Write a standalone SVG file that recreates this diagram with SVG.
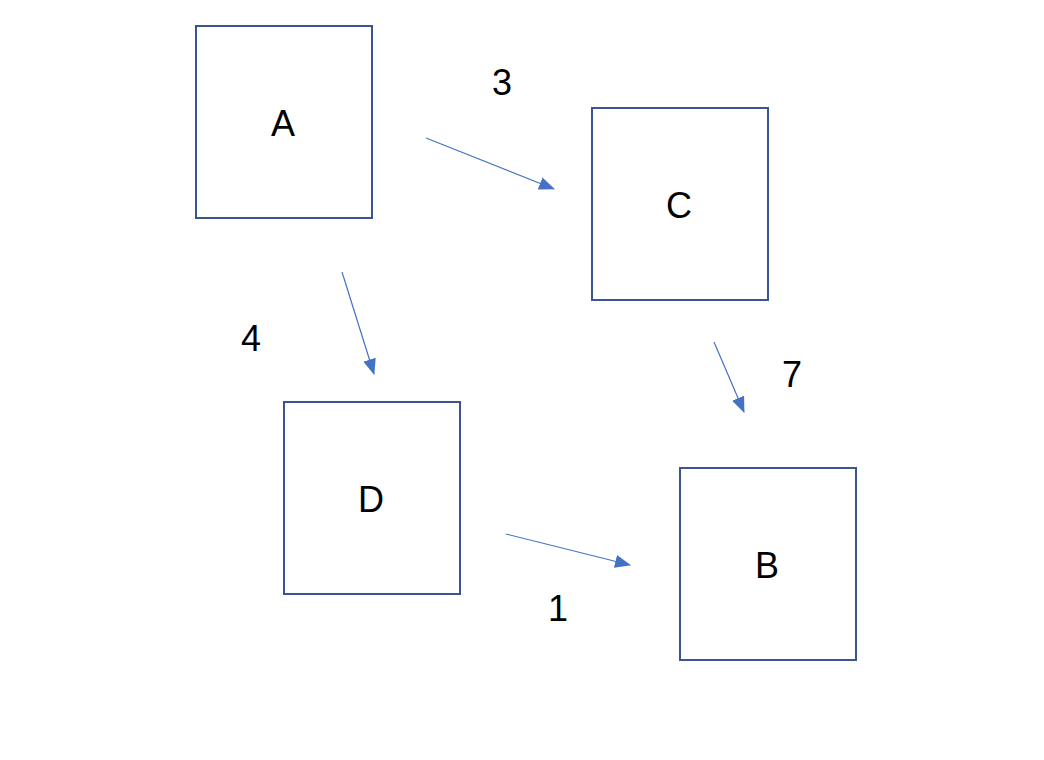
<svg xmlns="http://www.w3.org/2000/svg" width="1044" height="760" viewBox="0 0 1044 760">
<style>
.box{fill:#ffffff;stroke:#3B5591;stroke-width:2}
.lbl{font-family:"Liberation Sans",Arial,sans-serif;font-size:36px;fill:#000;text-anchor:middle}
.edge{stroke:#4472C4;stroke-width:1.2;fill:none;marker-end:url(#arr)}
</style>
<defs>
<marker id="arr" markerUnits="userSpaceOnUse" markerWidth="17" markerHeight="13" refX="15" refY="6.5" orient="auto">
<path d="M0,0 L16,6.5 L0,13 Z" fill="#4472C4"/>
</marker>
</defs>
<rect width="1044" height="760" fill="#ffffff"/>
<g id="node-A"><rect class="box" x="196" y="26" width="176" height="192"/><text class="lbl" x="283" y="136">A</text></g>
<g id="node-C"><rect class="box" x="592" y="108" width="176" height="192"/><text class="lbl" x="679" y="218">C</text></g>
<g id="node-D"><rect class="box" x="284" y="402" width="176" height="192"/><text class="lbl" x="371" y="512">D</text></g>
<g id="node-B"><rect class="box" x="680" y="468" width="176" height="192"/><text class="lbl" x="767" y="578">B</text></g>
<g id="connectors">
<line class="edge" x1="426" y1="138" x2="554" y2="189"/>
<line class="edge" x1="342" y1="272" x2="374" y2="374"/>
<line class="edge" x1="714" y1="342" x2="744" y2="412"/>
<line class="edge" x1="506" y1="534" x2="630" y2="565"/>
<text class="lbl" x="502" y="95">3</text>
<text class="lbl" x="251" y="351">4</text>
<text class="lbl" x="792" y="387">7</text>
<text class="lbl" x="558" y="621">1</text>
</g>
</svg>
